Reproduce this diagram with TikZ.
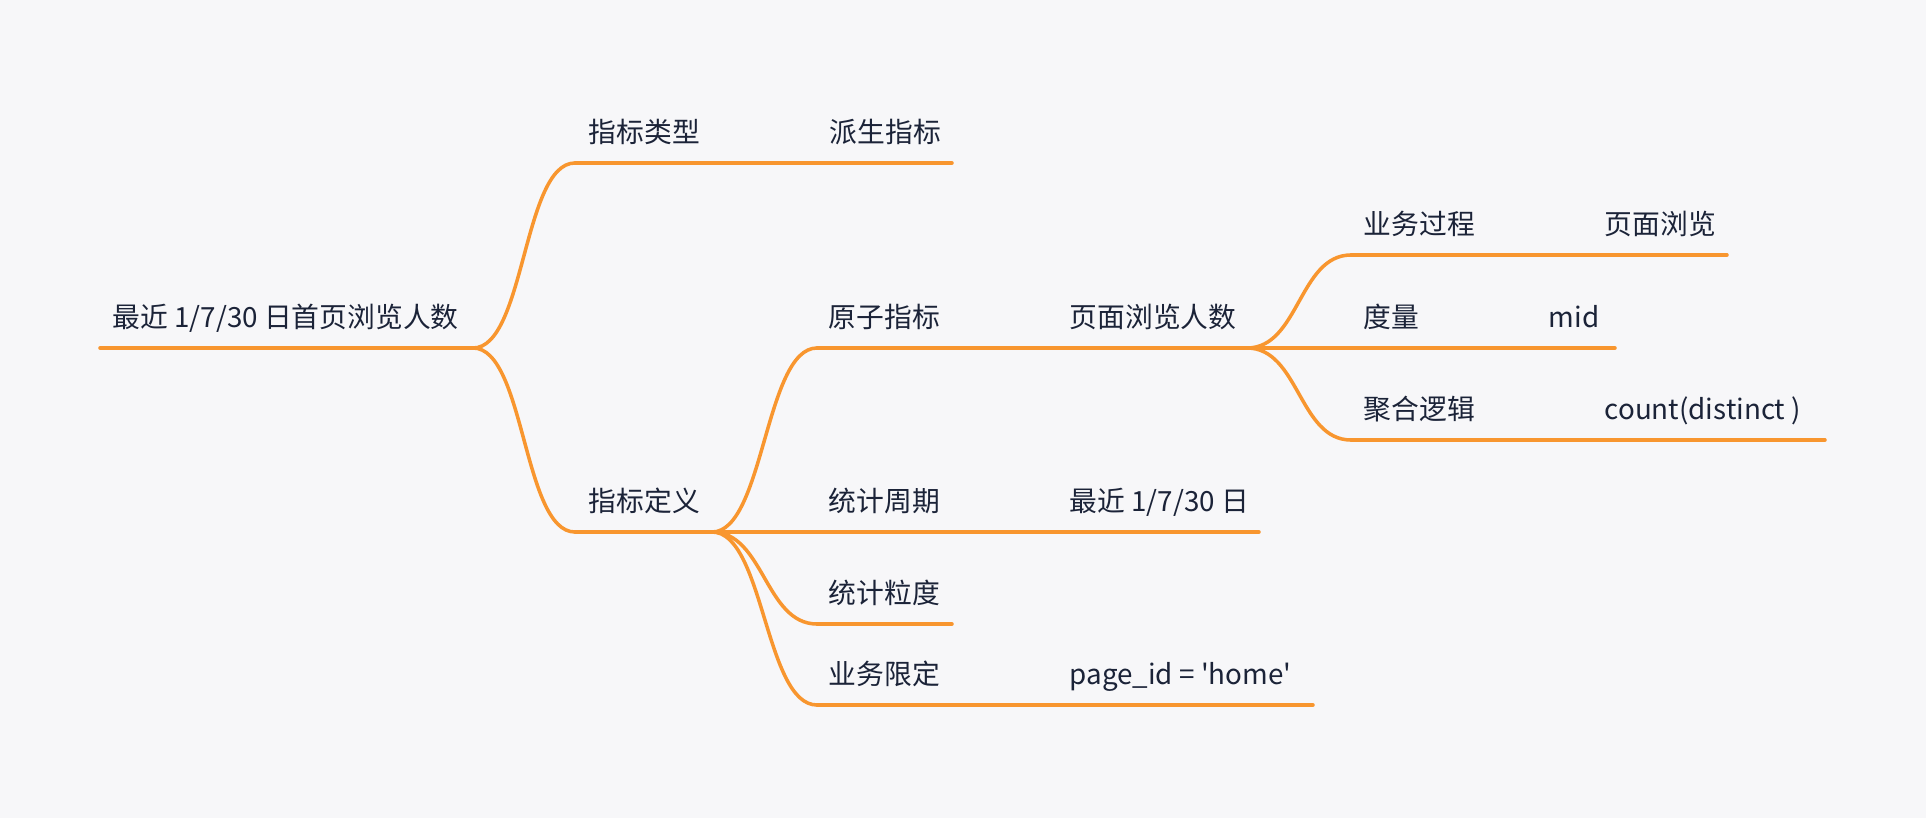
\documentclass[tikz,border=0pt]{standalone}
\usepackage{fontspec}
\setmainfont{Noto Sans CJK SC}
\usetikzlibrary{positioning}
\definecolor{bgcol}{HTML}{F7F7F9}
\definecolor{linecol}{HTML}{F8962F}
\definecolor{txtcol}{HTML}{1B2338}

\begin{document}
\begin{tikzpicture}[x=0.01cm,y=-0.01cm,
    lbl/.style={anchor=base west,inner sep=0pt,text=txtcol,font=\fontsize{7.9}{9}\selectfont},
    branch/.style={draw=linecol,line width=1pt,line cap=round}]

  \fill[bgcol] (0,0) rectangle (1926,818);

  % root
  \node [lbl] (root) at (112,327) {最近 1/7/30 日首页浏览人数};
  \coordinate (root-s) at (100,348);
  \coordinate (root-e) at (473,348);

  % first level
  \node [lbl] (type)    at (588,142) {指标类型};
  \node [lbl] (typeval) at (829,142) {派生指标};
  \coordinate (type-s) at (575,163);
  \coordinate (type-e) at (952,163);

  \node [lbl] (def) at (588,511) {指标定义};
  \coordinate (def-s) at (575,532);
  \coordinate (def-e) at (712,532);

  % second level
  \node [lbl] (atom)    at (828,327) {原子指标};
  \node [lbl] (atomval) at (1069,327) {页面浏览人数};
  \coordinate (atom-s) at (817,348);
  \coordinate (atom-e) at (1247,348);

  \node [lbl] (period)    at (828,511) {统计周期};
  \node [lbl] (periodval) at (1069,511) {最近 1/7/30 日};
  \coordinate (period-s) at (817,532);
  \coordinate (period-e) at (1259,532);

  \node [lbl] (grain) at (828,603) {统计粒度};
  \coordinate (grain-s) at (817,624);
  \coordinate (grain-e) at (952,624);

  \node [lbl] (limit)    at (828,684) {业务限定};
  \node [lbl] (limitval) at (1069,684) {page\_id = \textquotesingle home\textquotesingle};
  \coordinate (limit-s) at (817,705);
  \coordinate (limit-e) at (1313,705);

  % third level
  \node [lbl] (proc)    at (1363,234) {业务过程};
  \node [lbl] (procval) at (1604,234) {页面浏览};
  \coordinate (proc-s) at (1351,255);
  \coordinate (proc-e) at (1727,255);

  \node [lbl] (meas)    at (1363,327) {度量};
  \node [lbl] (measval) at (1548,327) {mid};
  \coordinate (meas-s) at (1351,348);
  \coordinate (meas-e) at (1615,348);

  \node [lbl] (agg)    at (1363,419) {聚合逻辑};
  \node [lbl] (aggval) at (1604,419) {count(distinct )};
  \coordinate (agg-s) at (1351,440);
  \coordinate (agg-e) at (1825,440);

  % underlines
  \foreach \n in {root,type,def,atom,period,grain,limit,proc,meas,agg}
    \draw [branch] (\n-s) -- (\n-e);

  % curved links
  \foreach \a/\b in {root/type,root/def,def/atom,def/period,def/grain,def/limit,atom/proc,atom/meas,atom/agg}
    \draw [branch] (\a-e) .. controls +(52,0) and +(-52,0) .. (\b-s);
\end{tikzpicture}
\end{document}
